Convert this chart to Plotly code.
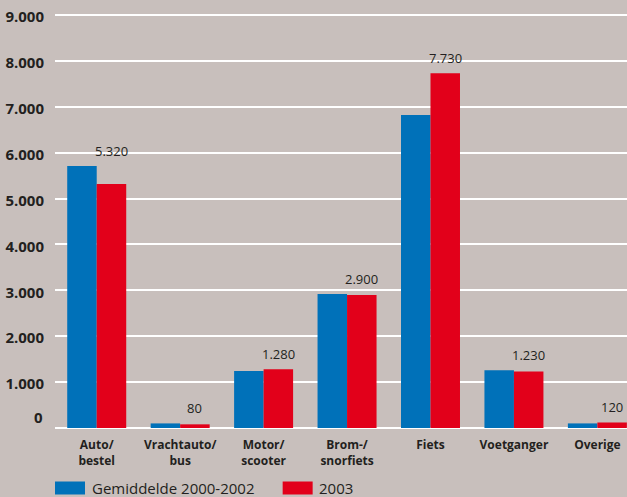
import plotly.graph_objects as go

categories = ["Auto/<br>bestel", "Vrachtauto/<br>bus", "Motor/<br>scooter", "Brom-/<br>snorfiets",
              "Fiets", "Voetganger", "Overige"]
avg_2000_2002 = [5710, 100, 1240, 2920, 6820, 1260, 100]
y2003 = [5320, 80, 1280, 2900, 7730, 1230, 120]
series_names = ["Gemiddelde 2000-2002", "2003"]
y_ticks = [1000, 2000, 3000, 4000, 5000, 6000, 7000, 8000, 9000]

BLUE = "#0071b9"
RED = "#e2001a"
BG = "#c8bfbc"
TXT = "#231f20"
FONT = "Open Sans"

fig = go.Figure()
fig.add_trace(go.Bar(x=categories, y=avg_2000_2002, name=series_names[0],
                     marker=dict(color=BLUE, line=dict(width=0)), showlegend=False))
fig.add_trace(go.Bar(x=categories, y=y2003, name=series_names[1],
                     marker=dict(color=RED, line=dict(width=0)), showlegend=False))

fig.update_layout(
    width=627, height=497,
    margin=dict(l=55, r=0, t=10, b=69.3),
    paper_bgcolor=BG, plot_bgcolor=BG,
    separators=",.",
    barmode="group", bargap=0.293, bargroupgap=0,
    font=dict(family=FONT, color=TXT),
    xaxis=dict(range=[-0.5, 6.355], showgrid=False, zeroline=False, showline=False,
               ticks="", ticklabelstandoff=8,
               tickfont=dict(family=FONT, size=12, weight="bold", color=TXT)),
    yaxis=dict(range=[0, 9110], tickvals=y_ticks, tickformat=",", showgrid=True,
               gridcolor="white", gridwidth=2, zeroline=True, zerolinecolor="white",
               zerolinewidth=2, showline=False, ticks="", ticklabelstandoff=10,
               ticklabelshift=2,
               tickfont=dict(family=FONT, size=15, weight="bold", color=TXT)),
)

# value labels for 2003 above the red bars
for i, (a, b) in enumerate(zip(avg_2000_2002, y2003)):
    fig.add_annotation(xref="x", yref="y", x=i, y=max(a, b), xanchor="center", yanchor="bottom",
                       xshift=14.7, yshift=4, showarrow=False, text=f"{b:,}".replace(",", "."),
                       font=dict(family=FONT, size=13, color=TXT))

# zero label (raised above baseline as in original)
fig.add_annotation(xref="paper", yref="y", x=0, y=0, xanchor="right", yanchor="middle",
                   xshift=-10, yshift=11, showarrow=False, text="0",
                   font=dict(family=FONT, size=15, weight="bold", color=TXT))

# manual legend
legend_items = [(0.0, BLUE, series_names[0], 35), (0.398, RED, series_names[1], 34)]
for x0, col, name, off in legend_items:
    fig.add_shape(type="rect", xref="paper", yref="paper", xsizemode="pixel", ysizemode="pixel",
                  xanchor=x0, yanchor=0, x0=0, x1=30, y0=-53.5, y1=-66.5,
                  fillcolor=col, line=dict(width=0))
    fig.add_annotation(xref="paper", yref="paper", x=x0, y=0, xanchor="left", yanchor="middle",
                       xshift=off, yshift=-60, showarrow=False, text=name,
                       font=dict(family=FONT, size=15, color=TXT))

fig.write_html("out.html", config={"displayModeBar": False},
               post_script="document.body.style.margin='0';")
